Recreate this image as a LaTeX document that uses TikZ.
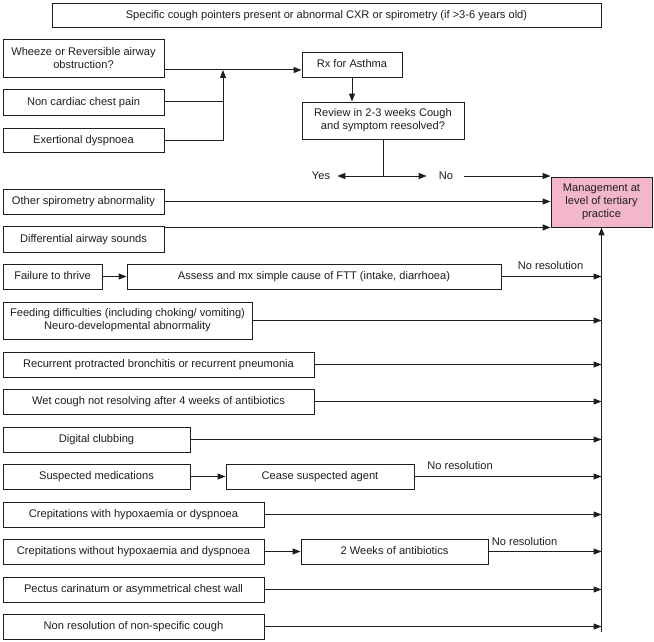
\documentclass[tikz,border=0pt]{standalone}
\usepackage{fontspec}
\setmainfont{Liberation Sans}
\usetikzlibrary{arrows.meta,calc}
\definecolor{pinkbox}{RGB}{244,182,201}
\definecolor{ink}{RGB}{30,30,30}
\begin{document}
\begin{tikzpicture}[x=1pt,y=-1pt,
  every node/.style={font=\fontsize{11.1}{12.8}\selectfont, text=ink},
  boxbase/.style={draw=ink, line width=0.9pt, fill=white, inner sep=0pt},
  box/.style={boxbase, text height=8.6pt, text depth=2pt},
  mbox/.style={boxbase, align=center},
  lbl/.style={inner sep=0pt},
  conn/.style={draw=ink, line width=1pt},
  arr/.style={conn, -{Triangle[length=8pt,width=6pt]}}]
\useasboundingbox (0,0) rectangle (654,642);

% boxes
\node[box, minimum width=549, minimum height=24] (top) at (326.5,15) {Specific cough pointers present or abnormal CXR or spirometry (if >3-6 years old)};
\node[mbox, minimum width=161, minimum height=38] (wheeze) at (83.5,58) {Wheeze or Reversible airway\\obstruction?};
\node[box, minimum width=161, minimum height=26] (noncard) at (83.5,102) {Non cardiac chest pain};
\node[box, minimum width=161, minimum height=24] (exert) at (83.5,140) {Exertional dyspnoea};
\node[box, minimum width=100, minimum height=25] (rx) at (352,64.5) {Rx for Asthma};
\node[mbox, minimum width=162, minimum height=37] (review) at (383,120.5) {Review in 2-3 weeks Cough\\and symptom reesolved?};
\node[mbox, fill=pinkbox, minimum width=101, minimum height=50, font=\fontsize{11.1}{13.3}\selectfont] (mgmt) at (601.5,202) {Management at\\level of tertiary\\practice};
\node[box, minimum width=161, minimum height=25] (otherspiro) at (83.5,201.5) {Other spirometry abnormality};
\node[box, minimum width=161, minimum height=26] (diff) at (83.5,239) {Differential airway sounds};
\node[box, minimum width=99, minimum height=25] (ftt) at (52.5,276.5) {Failure to thrive};
\node[box, minimum width=374, minimum height=25] (assess) at (314,276.5) {Assess and mx simple cause of FTT (intake, diarrhoea)};
\node[mbox, minimum width=249, minimum height=37] (feeding) at (127.5,320.5) {Feeding difficulties (including choking/ vomiting)\\Neuro-developmental abnormality};
\node[box, minimum width=311, minimum height=25] (recurrent) at (158.5,364.5) {Recurrent protracted bronchitis or recurrent pneumonia};
\node[box, minimum width=311, minimum height=25] (wet) at (158.5,401.5) {Wet cough not resolving after 4 weeks of antibiotics};
\node[box, minimum width=187, minimum height=25] (digital) at (96.5,439.5) {Digital clubbing};
\node[box, minimum width=187, minimum height=25] (meds) at (96.5,476.5) {Suspected medications};
\node[box, minimum width=188, minimum height=25] (cease) at (320,476.5) {Cease suspected agent};
\node[box, minimum width=261, minimum height=25] (crepwith) at (133.5,514.5) {Crepitations with hypoxaemia or dyspnoea};
\node[box, minimum width=261, minimum height=25] (crepwo) at (133.5,551.5) {Crepitations without hypoxaemia and dyspnoea};
\node[box, minimum width=187, minimum height=25] (twoweeks) at (394.5,551.5) {2 Weeks of antibiotics};
\node[box, minimum width=261, minimum height=25] (pectus) at (133.5,589.5) {Pectus carinatum or asymmetrical chest wall};
\node[box, minimum width=261, minimum height=25] (nonres) at (133.5,626.5) {Non resolution of non-specific cough};

% labels
\node[lbl] (yes) at (321,176) {Yes};
\node[lbl] (no) at (446,176) {No};
\node[lbl] (nr1) at (550.5,266) {No resolution};
\node[lbl] (nr2) at (460,466) {No resolution};
\node[lbl] (nr3) at (524.5,542) {No resolution};

% coordinates
\coordinate (wj) at (223,70);
\coordinate (yn) at (383,176);
\coordinate (trunkbot) at (601.5,632);

% asthma branch
\draw[arr] (wheeze.east |- wj) -- (rx.west |- wj);
\draw[conn] (noncard.east) -- (noncard.east -| wj);
\draw[arr] (exert.east) -| (wj);
\draw[arr] (rx.south) -- (rx.south |- review.north);
\draw[conn] (review.south) -- (yn);
\draw[arr] (yn) -- ([xshift=7]yes.east);
\draw[arr] (yn) -- ([xshift=-12]no.west);
\draw[arr] ([xshift=11]no.east) -- (no.east -| mgmt.west);

% into management box
\draw[arr] (otherspiro.east) -- (otherspiro.east -| mgmt.west);
\draw[arr] (diff.north east |- mgmt.south west) -- (mgmt.south west);
\draw[arr] (trunkbot) -- (mgmt.south);

% into trunk
\draw[arr] (ftt) -- (assess);
\draw[arr] (assess.east) -- (assess.east -| trunkbot);
\draw[arr] (feeding.east) -- (feeding.east -| trunkbot);
\draw[arr] (recurrent.east) -- (recurrent.east -| trunkbot);
\draw[arr] (wet.east) -- (wet.east -| trunkbot);
\draw[arr] (digital.east) -- (digital.east -| trunkbot);
\draw[arr] (meds) -- (cease);
\draw[arr] (cease.east) -- (cease.east -| trunkbot);
\draw[arr] (crepwith.east) -- (crepwith.east -| trunkbot);
\draw[arr] (crepwo) -- (twoweeks);
\draw[arr] (twoweeks.east) -- (twoweeks.east -| trunkbot);
\draw[arr] (pectus.east) -- (pectus.east -| trunkbot);
\draw[arr] (nonres.east) -- (nonres.east -| trunkbot);
\end{tikzpicture}
\end{document}
